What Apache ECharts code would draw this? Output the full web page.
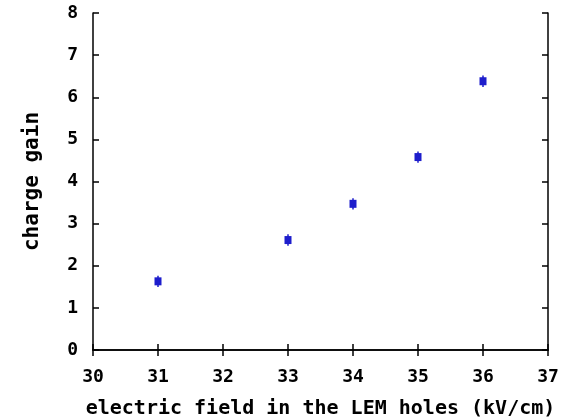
<!DOCTYPE html>
<html><head><meta charset="utf-8">
<script src="https://cdn.jsdelivr.net/npm/echarts@6/dist/echarts.min.js"></script>
<style>html,body{margin:0;padding:0;background:#fff}#c{width:581px;height:418px}</style>
</head><body><div id="c"></div>
<script>
const fieldValues = [31, 33, 34, 35, 36];
const gainValues = [1.63, 2.61, 3.47, 4.58, 6.38];
const gainErrors = [0.04, 0.04, 0.04, 0.04, 0.04];
const xTitle = 'electric field in the LEM holes (kV/cm)';
const yTitle = 'charge gain';

const font = 'DejaVu Sans Mono';
const data = fieldValues.map((x, i) => [x, gainValues[i], gainErrors[i]]);
const axisLine = {show: true, lineStyle: {color: '#000', width: 1.5}};
const tick = {show: true, inside: true, length: 6, lineStyle: {color: '#000', width: 1.5}};
const lbl = {fontFamily: font, fontWeight: 'bold', fontSize: 18, color: '#000'};

const chart = echarts.init(document.getElementById('c'));
chart.setOption({
  animation: false,
  grid: {left: 93, right: 33, top: 13, bottom: 68, outerBoundsMode: 'none', containLabel: false},
  xAxis: [
    {type: 'value', min: 30, max: 37, interval: 1, axisLine, axisTick: tick, splitLine: {show: false},
     axisLabel: Object.assign({margin: 18}, lbl),
     name: xTitle, nameLocation: 'middle', nameGap: 49,
     nameTextStyle: {fontFamily: font, fontWeight: 'bold', fontSize: 20, color: '#000'}},
    {type: 'value', position: 'top', min: 30, max: 37, interval: 1, axisLine, axisTick: tick,
     axisLabel: {show: false}, splitLine: {show: false}}
  ],
  yAxis: [
    {type: 'value', min: 0, max: 8, interval: 1, axisLine, axisTick: tick, splitLine: {show: false},
     axisLabel: Object.assign({margin: 15}, lbl),
     name: yTitle, nameLocation: 'middle', nameGap: 50, nameRotate: 90,
     nameTextStyle: {fontFamily: font, fontWeight: 'bold', fontSize: 21, color: '#000'}},
    {type: 'value', position: 'right', min: 0, max: 8, interval: 1, axisLine, axisTick: tick,
     axisLabel: {show: false}, splitLine: {show: false}}
  ],
  series: [{
    type: 'custom',
    data: data,
    renderItem: function (params, api) {
      const x = api.value(0), y = api.value(1), e = api.value(2);
      const c = api.coord([x, y]);
      const top = api.coord([x, y + e]);
      const bot = api.coord([x, y - e]);
      const color = '#1d1dcc';
      return {type: 'group', children: [
        {type: 'line', shape: {x1: c[0], y1: top[1] - 4, x2: c[0], y2: bot[1] + 4},
         style: {stroke: color, lineWidth: 1.5}},
        {type: 'rect', shape: {x: c[0] - 3.5, y: c[1] - 4, width: 7, height: 8},
         style: {fill: color}}
      ]};
    }
  }]
});
</script></body></html>
